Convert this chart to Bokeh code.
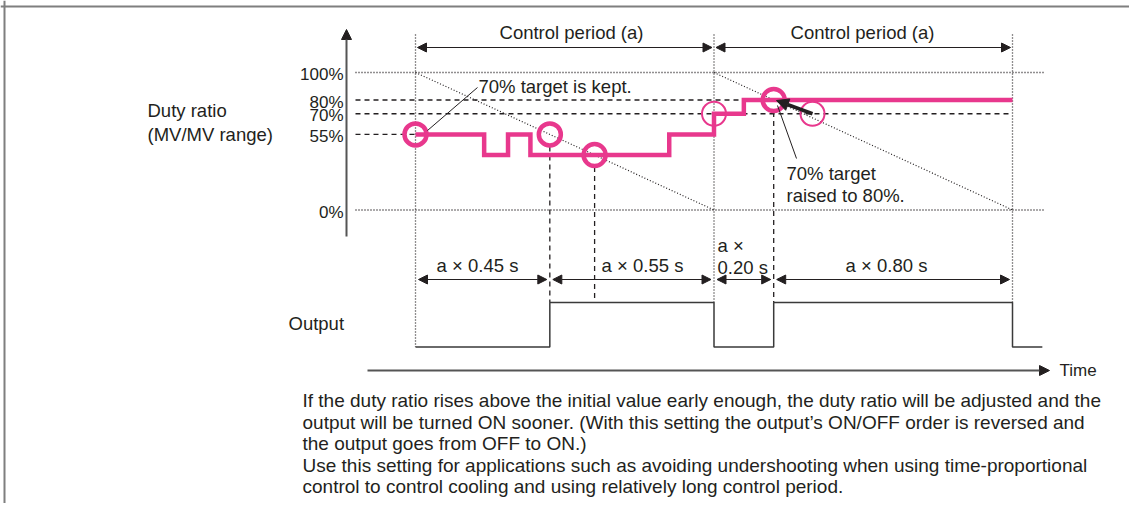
from bokeh.plotting import figure
from bokeh.models import Range1d, Arrow, NormalHead, ColumnDataSource, Span
from bokeh.core.properties import value
from bokeh.embed import file_html
from bokeh.resources import INLINE

# ---------------- data ----------------
duty_ticks = [100, 80, 70, 55, 0]
duty_tick_labels = ["100%", "80%", "70%", "55%", "0%"]
period_bounds = [0.0, 1.0, 2.0]                      # control periods (units of a)
mv_edges = [0.0, 0.23, 0.31, 0.385, 0.85, 1.0, 1.1, 2.0]
mv_levels = [55, 40, 55, 40, 55, 70, 80]             # duty ratio (%)
out_edges = [0.0, 0.45, 1.0, 1.2, 2.0, 2.1]
out_states = [0, 1, 0, 1, 0]                          # output OFF/ON
seg_bounds = [0.0, 0.45, 1.0, 1.2, 2.0]
seg_labels = ["a × 0.45 s", "a × 0.55 s", "a ×\n0.20 s", "a × 0.80 s"]
thick_t = [0.0, 0.45, 0.6, 1.2]
thick_v = [55, 55, 40, 80]
thin_t = [1.0, 1.33]
thin_v = [70, 70]
period_label = "Control period (a)"
paragraph = [
    "If the duty ratio rises above the initial value early enough, the duty ratio will be adjusted and the",
    "output will be turned ON sooner. (With this setting the output\u2019s ON/OFF order is reversed and",
    "the output goes from OFF to ON.)",
    "Use this setting for applications such as avoiding undershooting when using time-proportional",
    "control to control cooling and using relatively long control period.",
]

# ---------------- layout ----------------
W, H, OFF = 1129, 503, 0
X0, XS = 415.0, 298.5      # px of t=0, px per period
Y0, YS = 209.5, 1.375      # px of 0 %, px per %
OUT_LOW, OUT_PX = 346.5, 44.5
PINK = "#E8388D"
INK = "#231F20"
FONT = value("Liberation Sans")


def tx(px):
    return (px - X0) / XS


def vy(py):
    return (Y0 - py) / YS


def out_v(state):
    return vy(OUT_LOW - state * OUT_PX)


p = figure(width=W, height=H,
           x_range=Range1d(tx(OFF), tx(OFF + W)),
           y_range=Range1d(vy(OFF + H), vy(OFF)),
           x_axis_type=None, y_axis_type=None,
           output_backend="svg", toolbar_location=None, tools="",
           min_border=0)
p.extra_y_ranges = {"out": Range1d((OUT_LOW - (OFF + H)) / OUT_PX, (OUT_LOW - OFF) / OUT_PX)}
p.outline_line_color = None
p.background_fill_color = "white"
p.border_fill_color = "white"

# frame (top and left)
p.add_layout(Span(location=vy(6), dimension="width", line_color="#7f7f7f", line_width=2))
p.add_layout(Span(location=tx(4), dimension="height", line_color="#7f7f7f", line_width=2))

# horizontal reference lines
xl = tx(355)
p.segment(x0=[xl, xl], y0=[100, 0], x1=[tx(1043), tx(1043)], y1=[100, 0],
          line_color=INK, line_width=1.3, line_dash="1 2")
p.segment(x0=[xl, xl, xl], y0=[80, 70, 55], x1=[thick_t[3], period_bounds[2], period_bounds[0]],
          y1=[80, 70, 55], line_color=INK, line_width=1.3, line_dash="5 4")

# diagonal dotted lines
p.segment(x0=period_bounds[:2], y0=[100, 100], x1=period_bounds[1:], y1=[0, 0],
          line_color=INK, line_width=1.2, line_dash="1 2")


# vertical dotted lines at period bounds
def out_at(t):
    lv = 0
    for i, s in enumerate(out_states):
        if out_edges[i] - 1e-9 <= t <= out_edges[i + 1] + 1e-9:
            lv = max(lv, s)
    return lv


p.segment(x0=period_bounds, y0=[vy(34)] * 3, x1=period_bounds,
          y1=[out_v(out_at(t)) if t > 0 else out_v(0) for t in period_bounds],
          line_color=INK, line_width=1.3, line_dash="1 2")

# vertical dashed lines (switching instants)
r_v = 12 / YS
p.segment(x0=thick_t[1:], y0=[v - r_v for v in thick_v[1:]], x1=thick_t[1:],
          y1=[out_v(1)] * 3, line_color=INK, line_width=1.3, line_dash="5 4")

# duty ratio step line
xs, ys = [], []
for i, lv in enumerate(mv_levels):
    xs += [mv_edges[i], mv_edges[i + 1]]
    ys += [lv, lv]
p.line(xs, ys, line_color=PINK, line_width=4.5, line_join="miter")

# output signal
oxs, oys = [], []
for i, s in enumerate(out_states):
    oxs += [out_edges[i], out_edges[i + 1]]
    oys += [s, s]
p.line(oxs, oys, y_range_name="out", line_color="#3a3a3a", line_width=1.5)

# circles
p.scatter(thick_t, thick_v, size=22, marker="circle", fill_color=None,
          line_color=PINK, line_width=4.5)
p.scatter(thin_t, thin_v, size=24, marker="circle", fill_color=None,
          line_color=PINK, line_width=2)

# axes
p.add_layout(Arrow(end=NormalHead(size=10, fill_color=INK, line_color=INK),
                   x_start=tx(346), y_start=vy(236), x_end=tx(346), y_end=vy(29),
                   line_color="#555555", line_width=2))
p.add_layout(Arrow(end=NormalHead(size=10, fill_color=INK, line_color=INK),
                   x_start=tx(367), y_start=vy(370), x_end=tx(1049), y_end=vy(370),
                   line_color="#555555", line_width=2))


# dimension arrows
def dim_arrows(bounds, y_px, gap):
    src = ColumnDataSource(dict(
        x0=[b + gap for b in bounds[:-1]], x1=[b - gap for b in bounds[1:]],
        y=[vy(y_px)] * (len(bounds) - 1)))
    p.add_layout(Arrow(start=NormalHead(size=9, fill_color=INK, line_color=INK),
                       end=NormalHead(size=9, fill_color=INK, line_color=INK),
                       source=src, x_start="x0", y_start="y", x_end="x1", y_end="y",
                       line_color=INK, line_width=1.2))


dim_arrows(period_bounds, 47, 2 / XS)
dim_arrows(seg_bounds, 279, 3 / XS)

# annotation lines
p.segment(x0=[tx(427), tx(777)], y0=[vy(130), vy(105)], x1=[tx(477), tx(796)],
          y1=[vy(87), vy(158)], line_color=INK, line_width=1)
p.add_layout(Arrow(end=NormalHead(size=12, fill_color=INK, line_color=INK),
                   x_start=thin_t[1], y_start=thin_v[1], x_end=tx(776), y_end=vy(100),
                   line_color=INK, line_width=3.5))


def txt(x_px, y_px, s, align="left", size="18.5px"):
    p.text(x=[tx(x_px)], y=[vy(y_px)], text=[s], text_align=align,
           text_baseline="middle", text_font=FONT, text_font_size=size,
           text_color=INK)


# tick labels
p.text(x=[tx(343)] * len(duty_ticks), y=duty_ticks, text=duty_tick_labels,
       text_align="right", text_baseline="middle", y_offset=2,
       text_font=FONT, text_font_size="17px", text_color=INK)

txt(147, 110, "Duty ratio")
txt(147, 134, "(MV/MV range)")
txt(288, 323, "Output")
txt(1059, 370, "Time", size="17px")

# period labels
txt(571, 32, period_label, align="center")
txt(862, 32, period_label, align="center")

# segment labels
seg_x = [477, 642, None, 886]
for i, lab in enumerate(seg_labels):
    if "\n" in lab:
        a, b = lab.split("\n")
        txt(717, 245, a)
        txt(717, 267, b)
    else:
        txt(seg_x[i], 265, lab, align="center")

txt(478, 86, "70% target is kept.")
txt(786, 173, "70% target")
txt(786, 195, "raised to 80%.")

# paragraph
for i, line in enumerate(paragraph):
    txt(302, 400 + 21.5 * i, line, size="19px")

open("out.html", "w").write(file_html(p, INLINE))
